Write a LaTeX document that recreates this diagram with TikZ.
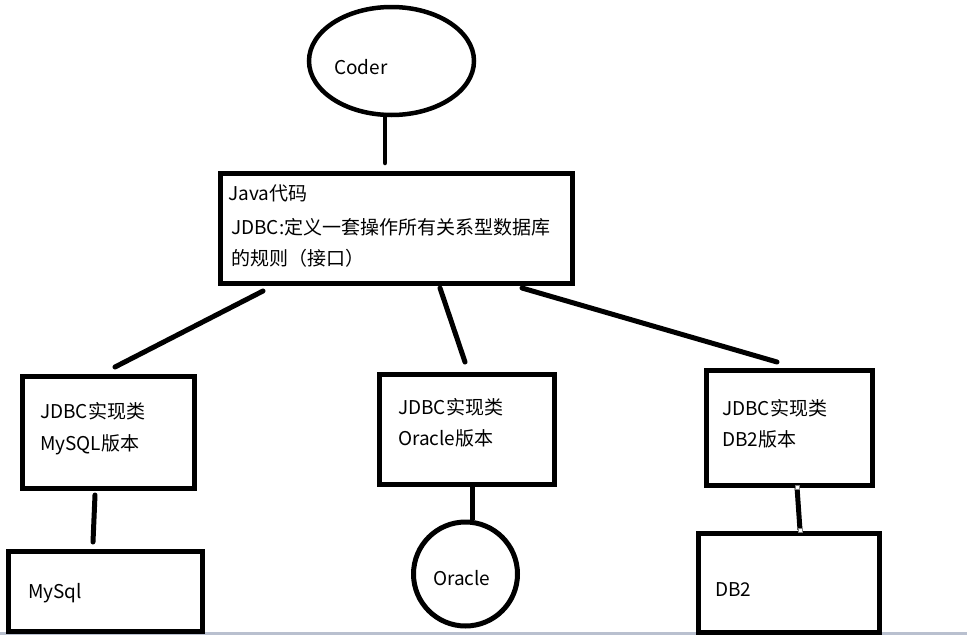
\documentclass[tikz,border=0pt]{standalone}
\usepackage{fontspec}
\setmainfont{Noto Sans CJK SC}
\usetikzlibrary{calc}
\begin{document}
\begin{tikzpicture}[x=1pt,y=-1pt,
  box/.style={draw=black,line width=5pt,inner sep=0pt,anchor=north west},
  conn/.style={draw=black,line width=5pt,line cap=round},
  txt/.style={inner sep=0pt,anchor=base west,font=\fontsize{19pt}{23pt}\selectfont},
  handle/.style={draw=gray,fill=white,line width=0.8pt,inner sep=0pt,minimum size=4pt}]
\useasboundingbox (0,0) rectangle (967,635);
\fill[white] (0,0) rectangle (967,635);
\fill[fill={rgb,255:red,185;green,192;blue,207}] (0,632) rectangle (967,635);
% shapes
\draw[line width=4.5pt] (391.5,61) ellipse [x radius=82.5, y radius=54];
\coordinate (coder) at (391.5,115);
\node[box,minimum width=352pt,minimum height=110pt] (java) at (217.5,170.5) {};
\node[box,minimum width=171.5pt,minimum height=112pt] (mysqlimpl) at (20,373.5) {};
\node[box,minimum width=175.5pt,minimum height=110pt] (oracleimpl) at (376.5,371.5) {};
\node[box,minimum width=166pt,minimum height=115pt] (db2impl) at (703.5,367.5) {};
\node[box,minimum width=194.5pt,minimum height=80pt] (mysqldb) at (5.5,548.5) {};
\node[draw=black,line width=5pt,circle,minimum size=104pt,inner sep=0pt] (oracledb) at (465.5,574) {};
\node[box,minimum width=181pt,minimum height=99pt] (db2db) at (695.5,530.5) {};
% texts
\node[txt] (tcoder) at (334,74) {Coder};
\node[txt] (tj1) at (228,200) {Java代码};
\node[txt] (tj2) at (231,234) {JDBC:定义一套操作所有关系型数据库};
\node[txt] (tj3) at (231,265) {的规则（接口）};
\node[txt] (tm1) at (40,418) {JDBC实现类};
\node[txt] (tm2) at (40,450) {MySQL版本};
\node[txt] (to1) at (398,414) {JDBC实现类};
\node[txt] (to2) at (398,445) {Oracle版本};
\node[txt] (td1) at (722,415) {JDBC实现类};
\node[txt] (td2) at (722,446) {DB2版本};
\node[txt] (tmy) at (28,598) {MySql};
\node[txt] (tor) at (433,585) {Oracle};
\node[txt] (tdb) at (715,596) {DB2};
% connectors
\draw[conn,line width=4.5pt] ($(coder)+(-6.5,0)$) -- ($(java.north west)+(167.5,-7.5)$);
\draw[conn] ($(java.south west)+(45.5,5.5)$) -- ($(mysqlimpl.north west)+(95,-6.5)$);
\draw[conn] ($(java.south west)+(222.5,2.5)$) -- ($(oracleimpl.north west)+(88.5,-9.5)$);
\draw[conn] ($(java.south west)+(304.5,2.5)$) -- ($(db2impl.north west)+(73.5,-5.5)$);
\draw[conn] ($(mysqlimpl.south west)+(75,4.5)$) -- ($(mysqldb.north west)+(87.5,-6.5)$);
\draw[conn,line cap=butt] ($(oracleimpl.south west)+(95.5,0)$) -- ($(oracledb.north)+(6.5,0)$);
\draw[conn,line cap=butt] ($(db2impl.south west)+(93.5,-0.5)$) coordinate (h1) -- ($(db2db.north west)+(104.5,-0.5)$) coordinate (h2);
\node[handle] (hd1) at (h1) {};
\node[handle] (hd2) at (h2) {};
\end{tikzpicture}
\end{document}
